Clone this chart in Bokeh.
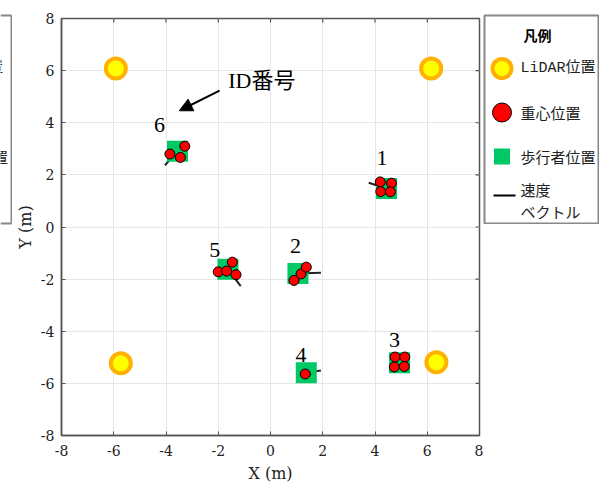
from bokeh.plotting import figure
from bokeh.models import Range1d, SingleIntervalTicker, Arrow, NormalHead, Spacer
from bokeh.layouts import row, column
from bokeh.core.properties import value
from bokeh.embed import file_html
from bokeh.resources import INLINE

# ---------------- data ----------------
lidar_x = [-5.92, 6.15, -5.73, 6.35]
lidar_y = [6.08, 6.08, -5.23, -5.19]

ped_id = ["1", "2", "3", "4", "5", "6"]
ped_x = [4.44, 1.05, 4.94, 1.37, -1.63, -3.56]
ped_y = [1.48, -1.78, -5.21, -5.59, -1.62, 2.91]
vel_end_x = [3.76, 1.93, 5.00, 1.93, -1.14, -4.04]
vel_end_y = [1.70, -1.76, -5.22, -5.51, -2.27, 2.37]
label_x = [4.27, 0.96, 4.75, 1.17, -2.13, -4.25]
label_y = [2.65, -0.73, -4.35, -4.92, -0.90, 3.90]

centroid_x = [4.20, 4.63, 4.22, 4.59, 0.90, 1.17, 1.37, 4.77, 5.14, 4.74, 5.12,
              1.33, -2.00, -1.68, -1.46, -1.32, -3.85, -3.28, -3.45]
centroid_y = [1.73, 1.68, 1.36, 1.35, -2.05, -1.80, -1.54, -4.99, -4.99, -5.37, -5.35,
              -5.64, -1.72, -1.69, -1.35, -1.83, 2.80, 3.10, 2.67]

note_text = ["ID番号"]
note_x = [-1.62]
note_y = [5.62]
arrow_start = (-1.95, 5.23)
arrow_end = (-3.49, 4.46)

ticks = [-8, -6, -4, -2, 0, 2, 4, 6, 8]
tick_labels = ["-8", "-6", "-4", "-2", "0", "2", "4", "6", "8"]
axis_min, axis_max = -8, 8

legend_title = ["凡例"]
legend_labels = ["LiDAR位置", "重心位置", "歩行者位置", "速度\nベクトル"]

# ---------------- styles ----------------
SERIF = "Liberation Serif, Noto Sans CJK JP"
SANS = "Noto Sans CJK JP"
MONO = "Liberation Mono, Noto Sans CJK JP"
GREEN = "#00C864"
RING = "#FFB000"
FRAME = "#555555"
BOX = "#888888"
FRAME_W, FRAME_H = 418, 417
CUT_W = 12

# ---------------- cut-off legend box at the far left ----------------
cut = figure(frame_width=CUT_W, frame_height=226, x_range=Range1d(0, CUT_W), y_range=Range1d(226, 0),
             output_backend="svg", toolbar_location=None,
             x_axis_location=None, y_axis_location=None,
             min_border_left=0, min_border_right=0, min_border_top=0, min_border_bottom=0,
             background_fill_color="white", border_fill_color="white")
cut.grid.visible = False
cut.outline_line_color = None
cut.segment([0, CUT_W - 1, 0], [15, 15, 223], [CUT_W - 1, CUT_W - 1, CUT_W - 1], [15, 223, 223],
            line_color=BOX, line_width=2)
cut.text([2.5], [68], text=[legend_labels[0]], text_font=value(MONO), text_font_size="15px",
         text_align="right", text_baseline="middle", text_color="#222222")
cut.text([7.5], [156], text=[legend_labels[2]], text_font=value(SANS), text_font_size="15px",
         text_align="right", text_baseline="middle", text_color="#222222")

# ---------------- main plot ----------------
p = figure(frame_width=FRAME_W, frame_height=FRAME_H,
           x_range=Range1d(axis_min, axis_max), y_range=Range1d(axis_min, axis_max),
           output_backend="svg", toolbar_location=None,
           min_border_left=61 - CUT_W, min_border_right=4, min_border_top=18, min_border_bottom=48,
           background_fill_color="white", border_fill_color="white")
p.outline_line_color = FRAME
p.outline_line_width = 1.5

tk = SingleIntervalTicker(interval=2, num_minor_ticks=0)
for ax in (p.xaxis[0], p.yaxis[0]):
    ax.ticker = tk
    ax.major_label_overrides = dict(zip(ticks, tick_labels))
    ax.axis_line_color = FRAME
    ax.axis_line_width = 1.5
    ax.major_tick_in = 4
    ax.major_tick_out = 0
    ax.major_tick_line_color = FRAME
    ax.minor_tick_line_color = None
    ax.major_label_text_font = "DejaVu Serif"
    ax.major_label_text_font_size = "14px"
    ax.major_label_text_color = "#222222"
    ax.axis_label_text_font = "DejaVu Serif"
    ax.axis_label_text_font_size = "16px"
    ax.axis_label_text_font_style = "normal"
    ax.axis_label_text_color = "#222222"
p.xaxis.axis_label = "X (m)"
p.yaxis.axis_label = "Y (m)"
p.xaxis.major_label_standoff = 9
p.yaxis.major_label_standoff = 7
p.xaxis.axis_label_standoff = 5
p.yaxis.axis_label_standoff = 3

p.grid.ticker = tk
p.grid.grid_line_color = "#e6e6e6"
p.grid.grid_line_width = 1

# box ticks on the right and top edges (4 px long, inward)
tlen = (axis_max - axis_min) * 4 / FRAME_W
inner = [t for t in ticks if axis_min < t < axis_max]
p.segment([axis_max - tlen] * len(inner), inner, [axis_max] * len(inner), inner,
          line_color=FRAME, line_width=1.2)
p.segment(inner, [axis_max - tlen] * len(inner), inner, [axis_max] * len(inner),
          line_color=FRAME, line_width=1.2)

# LiDAR
p.scatter(lidar_x, lidar_y, size=20, fill_color="#FFFF00", line_color=RING, line_width=4)
# velocity vectors
p.segment(ped_x, ped_y, vel_end_x, vel_end_y, line_color="#222222", line_width=2)
# pedestrians
p.scatter(ped_x, ped_y, marker="square", size=21, fill_color=GREEN, line_color=None)
# centroids
p.scatter(centroid_x, centroid_y, size=10, fill_color="#FF0000", line_color="black", line_width=1)
# ID labels
p.text(label_x, label_y, text=ped_id, text_font=value("Liberation Serif"), text_font_size="22px",
       text_align="center", text_baseline="middle", text_color="black")
# annotation
p.text(note_x, note_y, text=note_text, text_font=value(SERIF), text_font_size="22px",
       text_align="left", text_baseline="middle", text_color="black")
p.add_layout(Arrow(end=NormalHead(size=13, fill_color="black", line_color="black"),
                   x_start=arrow_start[0], y_start=arrow_start[1],
                   x_end=arrow_end[0], y_end=arrow_end[1],
                   line_color="black", line_width=2))

# ---------------- legend panel ----------------
lg = figure(frame_width=114, frame_height=208, x_range=Range1d(0, 114), y_range=Range1d(208, 0),
            output_backend="svg", toolbar_location=None,
            x_axis_location=None, y_axis_location=None,
            min_border_left=1, min_border_right=1, min_border_top=15, min_border_bottom=1,
            background_fill_color="white", border_fill_color="white")
lg.grid.visible = False
lg.outline_line_color = BOX
lg.outline_line_width = 2

lg.text([53], [19], text=legend_title, text_font=value(SANS), text_font_size="14px",
        text_font_style="bold", text_align="center", text_baseline="middle")
lg.scatter([17.5], [53], size=19, fill_color="#FFFF00", line_color=RING, line_width=4)
lg.scatter([17.5], [97], size=19, fill_color="#FF0000", line_color="black", line_width=1)
lg.scatter([17.5], [141], marker="square", size=16, fill_color=GREEN, line_color=None)
lg.segment([9], [180], [31], [180], line_color="black", line_width=2)
lg.text([36], [53], text=[legend_labels[0]], text_font=value(MONO),
        text_font_size="15px", text_align="left", text_baseline="middle", text_color="#222222")
lg.text([36, 36], [97, 141], text=legend_labels[1:3], text_font=value(SANS),
        text_font_size="15px", text_align="left", text_baseline="middle", text_color="#222222")
lg.text([36], [185], text=[legend_labels[3]], text_font=value(SANS), text_line_height=1.05,
        text_font_size="15px", text_align="left", text_baseline="middle", text_color="#222222")

left = column(cut, Spacer(width=CUT_W, height=250))
right = column(lg, Spacer(width=116, height=250))
layout = row(left, p, right)
open("out.html", "w").write(file_html(layout, INLINE))
